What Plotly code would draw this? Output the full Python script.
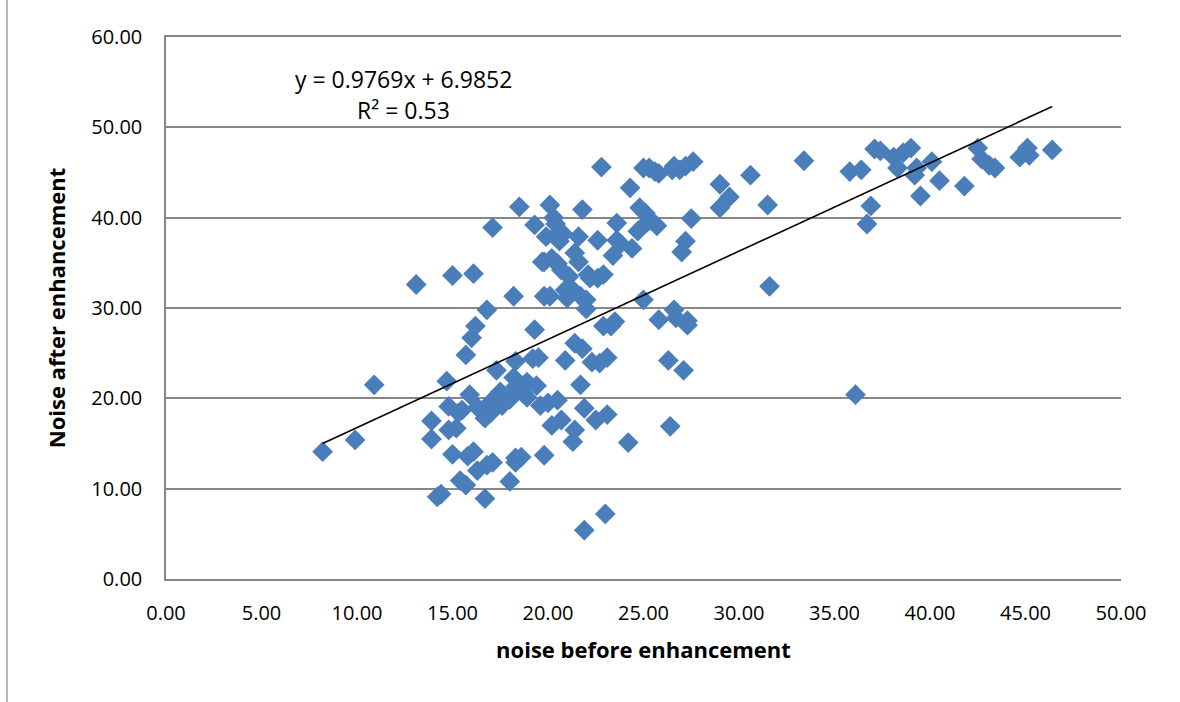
import plotly.graph_objects as go

noise_before = [
    8.2, 9.9, 10.9, 13.1, 13.9, 13.9, 14.2, 14.4, 14.7, 15.0, 14.8, 14.8, 15.0, 15.2, 15.3, 15.4,
    15.5, 15.7, 15.8, 15.7, 15.9, 16.1, 16.0, 16.2, 16.1, 16.3, 16.3, 16.6, 16.7, 16.8, 16.8, 16.7,
    17.0, 17.0, 17.1, 17.1, 17.3, 17.3, 17.5, 17.6, 18.0, 18.0, 18.2, 18.2, 18.3, 18.3, 18.3, 18.3,
    18.5, 18.6, 18.7, 18.9, 18.9, 19.2, 19.3, 19.3, 19.4, 19.5, 19.6, 19.7, 19.8, 19.8, 19.8, 19.9,
    20.0, 20.1, 20.1, 20.2, 20.2, 20.3, 20.4, 20.5, 20.5, 20.6, 20.6, 20.7, 20.7, 20.8, 20.9, 20.9,
    21.0, 21.1, 21.3, 21.3, 21.4, 21.4, 21.4, 21.6, 21.6, 21.7, 21.7, 21.8, 21.8, 21.9, 21.9, 22.0,
    22.0, 22.1, 22.2, 22.3, 22.5, 22.6, 22.6, 22.7, 22.8, 22.9, 22.9, 23.0, 23.1, 23.1, 23.3, 23.4,
    23.5, 23.6, 23.6, 23.8, 24.2, 24.3, 24.4, 24.7, 24.8, 25.0, 25.0, 25.1, 25.2, 25.3, 25.4, 25.6,
    25.7, 25.8, 25.8, 26.3, 26.4, 26.5, 26.6, 26.6, 26.7, 26.9, 27.0, 27.1, 27.2, 27.2, 27.3, 27.3,
    27.5, 27.6, 29.0, 29.0, 29.5, 30.6, 31.5, 31.6, 33.4, 35.8, 36.1, 36.4, 36.7, 36.9, 37.1, 37.4,
    38.1, 38.3, 38.6, 39.0, 39.2, 39.3, 39.5, 40.1, 40.5, 41.8, 42.5, 42.7, 43.1, 43.4, 44.7, 45.1,
    45.2, 46.4,
]
noise_after = [
    14.1, 15.4, 21.5, 32.6, 17.5, 15.5, 9.1, 9.4, 21.9, 33.6, 19.1, 16.5, 13.8, 16.7, 18.4, 10.9,
    18.7, 10.4, 13.6, 24.8, 20.4, 33.8, 26.7, 28.0, 14.1, 19.0, 12.0, 18.6, 8.9, 29.8, 12.6, 17.8,
    19.6, 18.4, 38.9, 12.9, 23.1, 19.5, 20.7, 19.2, 10.8, 19.9, 22.3, 31.3, 13.4, 12.9, 21.3, 24.1,
    41.2, 13.5, 20.6, 21.8, 20.1, 24.4, 27.6, 39.2, 21.4, 24.5, 19.2, 35.1, 31.3, 35.1, 13.7, 37.9,
    19.5, 41.4, 31.3, 17.0, 35.5, 40.0, 39.3, 19.8, 34.9, 37.4, 38.5, 34.2, 17.6, 38.2, 32.0, 24.2,
    31.1, 33.5, 15.2, 32.0, 26.1, 36.1, 16.5, 37.9, 35.1, 21.5, 31.3, 25.5, 40.9, 18.9, 5.4, 30.9,
    29.9, 33.7, 33.3, 24.0, 17.6, 33.3, 37.5, 23.9, 45.6, 33.7, 28.0, 7.2, 24.5, 18.2, 28.0, 35.8,
    28.5, 39.4, 37.5, 37.1, 15.1, 43.3, 36.6, 38.5, 41.1, 30.9, 45.5, 40.5, 39.5, 45.5, 39.7, 45.1,
    39.1, 28.7, 44.9, 24.2, 16.9, 45.3, 29.8, 45.7, 28.9, 45.3, 36.2, 23.1, 37.4, 45.7, 28.1, 28.6,
    39.9, 46.2, 41.1, 43.7, 42.3, 44.7, 41.4, 32.4, 46.3, 45.1, 20.4, 45.3, 39.3, 41.3, 47.6, 47.4,
    46.7, 45.5, 47.2, 47.7, 44.7, 45.5, 42.4, 46.2, 44.1, 43.5, 47.7, 46.5, 45.8, 45.5, 46.7, 47.7,
    46.9, 47.5,
]

slope = 0.9769
intercept = 6.9852
r_squared = 0.53

x_ticks = [0, 5, 10, 15, 20, 25, 30, 35, 40, 45, 50]
y_ticks = [0, 10, 20, 30, 40, 50, 60]

font_family = "Open Sans, Noto Sans, sans-serif"
grid_color = "#878787"

x_min = min(noise_before)
x_max = max(noise_before)
trend_x = [x_min, x_max]
trend_y = [slope * v + intercept for v in trend_x]

fig = go.Figure()
fig.add_trace(go.Scatter(
    x=noise_before, y=noise_after, mode="markers",
    marker=dict(symbol="diamond", size=16, color="#4a7ebb", line=dict(width=0)),
    showlegend=False, hoverinfo="x+y",
))
fig.add_trace(go.Scatter(
    x=trend_x, y=trend_y, mode="lines",
    line=dict(color="black", width=1.6), showlegend=False, hoverinfo="skip",
))

fig.add_annotation(
    x=0.249, y=0.923, xref="paper", yref="paper", xanchor="center", yanchor="middle",
    text=f"y = {slope}x + {intercept}", showarrow=False,
    font=dict(family=font_family, size=23, color="black"),
)
fig.add_annotation(
    x=0.249, y=0.866, xref="paper", yref="paper", xanchor="center", yanchor="middle",
    text=f"R² = {r_squared}", showarrow=False,
    font=dict(family=font_family, size=23, color="black"),
)

# outer chart frame left edge
fig.add_shape(type="line", xref="paper", yref="paper",
              x0=-0.1665, x1=-0.1665, y0=-0.23, y1=1.07,
              line=dict(color="#a0a0a0", width=1.5))

fig.update_layout(
    width=1180, height=702,
    margin=dict(l=166, r=59, t=37, b=123),
    paper_bgcolor="white", plot_bgcolor="white",
    font=dict(family=font_family, size=20, color="black"),
    xaxis=dict(
        range=[0, 50], tickvals=x_ticks, ticktext=[f"{v:.2f}" for v in x_ticks],
        showgrid=False, zeroline=False, showline=True, mirror=True,
        linecolor=grid_color, linewidth=1.5,
        ticks="outside", ticklen=0, ticklabelstandoff=15,
        tickfont=dict(family=font_family, size=20),
        title=dict(text="<b>noise before enhancement</b>", standoff=18,
                   font=dict(family=font_family, size=22)),
    ),
    yaxis=dict(
        range=[0, 60], tickvals=y_ticks, ticktext=[f"{v:.2f}" for v in y_ticks],
        showgrid=True, gridcolor=grid_color, gridwidth=1.5,
        zeroline=False, showline=True, linecolor=grid_color, linewidth=1.5,
        ticks="outside", ticklen=0, ticklabelstandoff=18,
        tickfont=dict(family=font_family, size=20),
        title=dict(text="<b>Noise after enhancement</b>", standoff=20,
                   font=dict(family=font_family, size=22)),
    ),
)

fig.write_html("out.html", config={"displayModeBar": False},
               post_script="document.body.style.margin='0px';")
